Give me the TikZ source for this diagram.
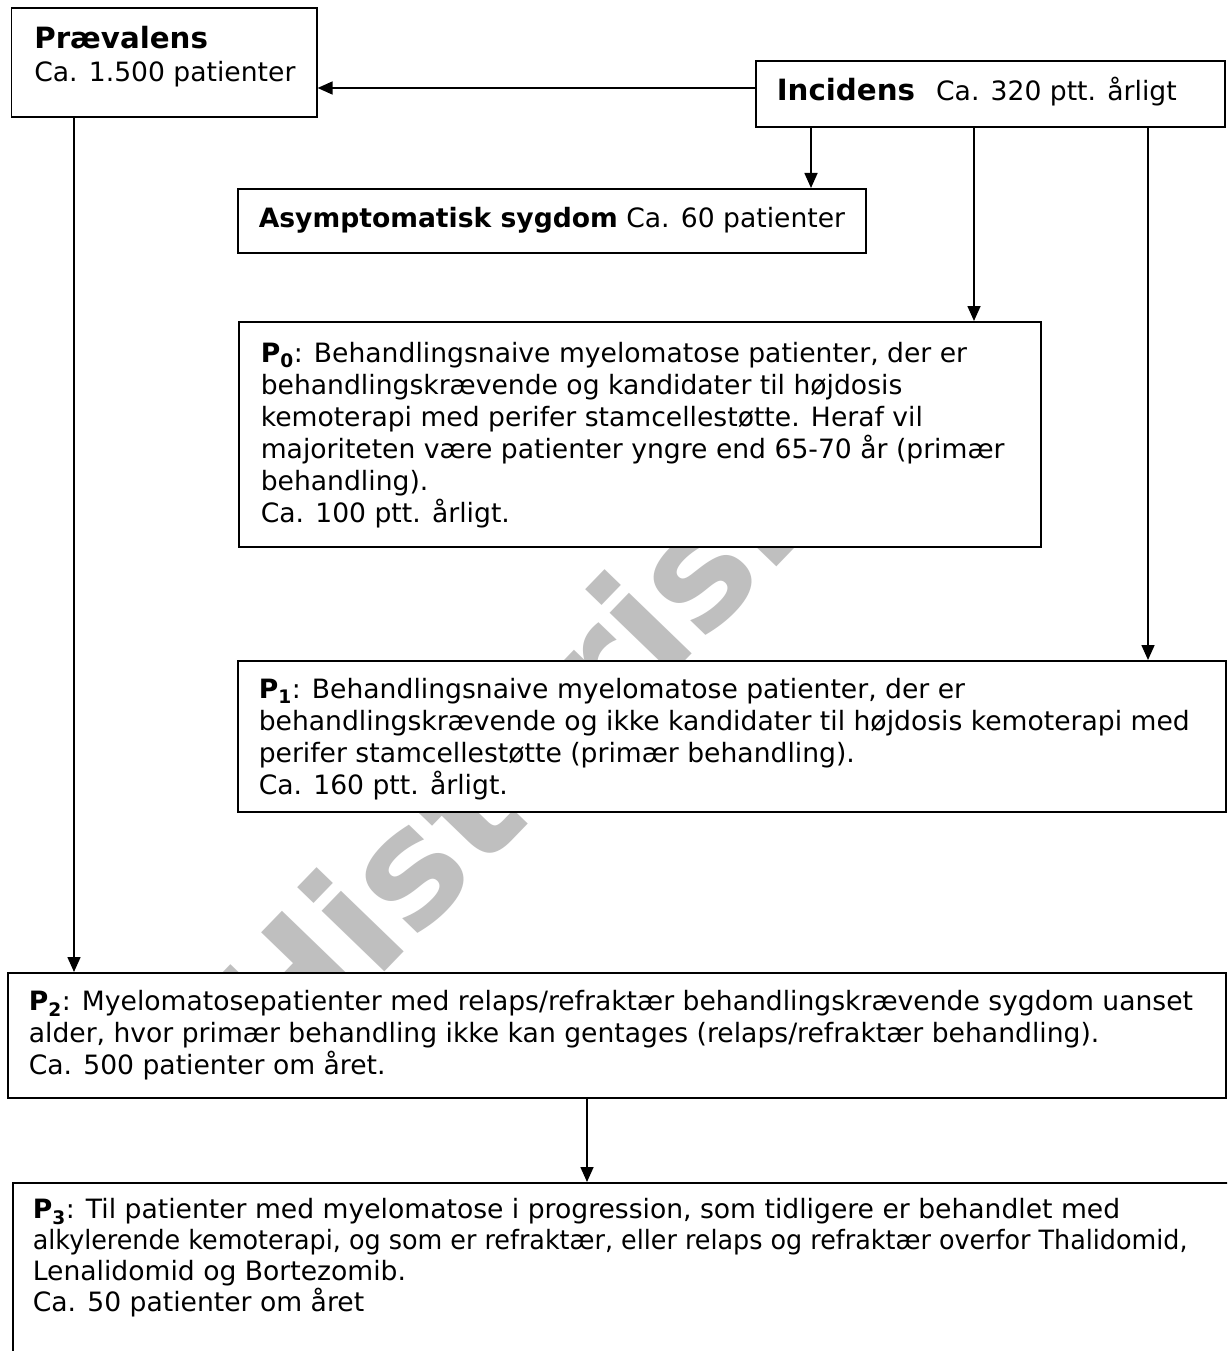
\documentclass[tikz,border=0pt]{standalone}
\usepackage{fontspec}
\usepackage{graphicx}
\setmainfont{DejaVu Sans}
\usetikzlibrary{arrows.meta}
\newcommand\bodyfont{\fontsize{26.6}{32}\selectfont}
\newcommand\headfont{\fontsize{29.3}{32}\selectfont\bfseries}
\newcommand\firststrut{\rule{0pt}{24pt}}
\tikzset{
  box/.style={draw=black, line width=1.6pt, fill=white, rectangle, anchor=north west},
  arr/.style={draw=black, line width=1.6pt, -{Triangle[length=15pt,width=13pt]}},
  wm/.style={inner sep=0pt, text=black!25, font=\fontsize{159.5}{160}\selectfont\bfseries}
}
\begin{document}
\begin{tikzpicture}[x=1pt,y=-1pt]
\useasboundingbox (0,0) rectangle (1227,1351);
\clip (0,0) rectangle (1227,1351);
\fill[white] (0,0) rectangle (1227,1351);
% watermark
\node[wm, rotate=46, anchor=base west] (wmark) at (283,1078) {Historisk};
% boxes
\node[box, inner xsep=23pt, inner ysep=16.5pt] (prev) at (10.5,7)
  {\parbox[t][76pt][t]{259.5pt}{\bodyfont\raggedright\firststrut{\headfont Prævalens}\\[1.5pt]\mbox{Ca. 1.500 patienter}}};
\node[box, inner xsep=21pt, inner ysep=16pt] (inc) at (755,60)
  {\parbox[t][34pt][t]{427pt}{\bodyfont\raggedright\mbox{\firststrut{\headfont Incidens}\hspace{21pt}Ca. 320 ptt. årligt}}};
\node[box, inner xsep=21pt, inner ysep=15pt] (asym) at (237,188)
  {\parbox[t][34pt][t]{586pt}{\bodyfont\raggedright\mbox{\firststrut\textbf{Asymptomatisk sygdom} Ca. 60 patienter}}};
\node[box, inner xsep=22pt, inner ysep=16.5pt] (p0) at (238,321)
  {\parbox[t][192pt][t]{758pt}{\bodyfont\raggedright
   \mbox{\firststrut\textbf{P\textsubscript{0}}: Behandlingsnaive myelomatose patienter, der er}\\
   \mbox{behandlingskrævende og kandidater til højdosis}\\
   \mbox{kemoterapi med perifer stamcellestøtte. Heraf vil}\\
   \mbox{majoriteten være patienter yngre end 65-70 år (primær}\\
   \mbox{behandling).}\\
   \mbox{Ca. 100 ptt. årligt.}}};
\node[box, inner xsep=21pt, inner ysep=13.5pt] (p1) at (237,660)
  {\parbox[t][124pt][t]{946pt}{\bodyfont\raggedright
   \mbox{\firststrut\textbf{P\textsubscript{1}}: Behandlingsnaive myelomatose patienter, der er}\\
   \mbox{behandlingskrævende og ikke kandidater til højdosis kemoterapi med}\\
   \mbox{perifer stamcellestøtte (primær behandling).}\\
   \mbox{Ca. 160 ptt. årligt.}}};
\node[box, inner xsep=21pt, inner ysep=14pt] (p2) at (7,972)
  {\parbox[t][97pt][t]{1176pt}{\bodyfont\raggedright
   \mbox{\firststrut\textbf{P\textsubscript{2}}: Myelomatosepatienter med relaps/refraktær behandlingskrævende sygdom uanset}\\
   \mbox{alder, hvor primær behandling ikke kan gentages (relaps/refraktær behandling).}\\
   \mbox{Ca. 500 patienter om året.}}};
\node[box, inner xsep=20pt, inner ysep=12pt] (p3) at (12,1182)
  {\parbox[t][194pt][t]{1208pt}{\fontsize{26.6}{31}\selectfont\raggedright
   \mbox{\firststrut\textbf{P\textsubscript{3}}: Til patienter med myelomatose i progression, som tidligere er behandlet med}\\
   \scalebox{0.955}[1]{alkylerende kemoterapi, og som er refraktær, eller relaps og refraktær overfor Thalidomid,}\\
   \mbox{Lenalidomid og Bortezomib.}\\
   \mbox{Ca. 50 patienter om året}}};
% helper coordinates
\coordinate (ya) at (0,88);
\coordinate (xa) at (811,0);
\coordinate (xb) at (974,0);
\coordinate (xc) at (1148,0);
\coordinate (xd) at (74,0);
\coordinate (xe) at (587,0);
% connectors
\draw[arr] (inc.west |- ya) -- (prev.east |- ya);
\draw[arr] (inc.south -| xa) -- (asym.north -| xa);
\draw[arr] (inc.south -| xb) -- (p0.north -| xb);
\draw[arr] (inc.south -| xc) -- (p1.north -| xc);
\draw[arr] (prev.south -| xd) -- (p2.north -| xd);
\draw[arr] (p2.south -| xe) -- (p3.north -| xe);
\end{tikzpicture}
\end{document}
